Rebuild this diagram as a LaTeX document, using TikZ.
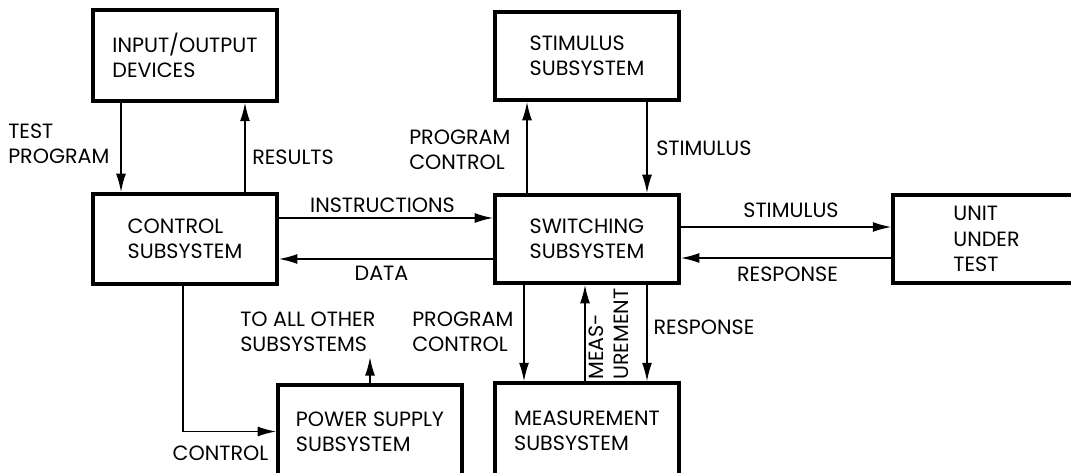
\documentclass[tikz,border=0pt]{standalone}
\usepackage{fontspec}
\setmainfont{Poppins}
\usetikzlibrary{arrows.meta}
\usetikzlibrary{positioning}

\begin{document}
\begin{tikzpicture}[x=0.75pt,y=-0.75pt,font=\fontsize{15.5}{19}\selectfont,
  blk/.style={draw,line width=2.6pt,align=left,inner sep=0pt,minimum width=138pt,minimum height=66pt},
  arr/.style={line width=1.3pt,-{Latex[length=14pt,width=7.5pt]}},
  lbl/.style={inner sep=0pt,align=left}]
\useasboundingbox (0,0) rectangle (1071,473);
\clip (0,0) rectangle (1071,473);

\node[blk,minimum height=68pt] (io) at (185,55.5) {INPUT/OUTPUT\\DEVICES};
\node[blk,minimum height=67.5pt] (ctl) at (185,239) {CONTROL\\SUBSYSTEM};
\node[blk] (stim) at (587,56) {STIMULUS\\SUBSYSTEM};
\node[blk] (sw) at (587,239) {SWITCHING\\SUBSYSTEM};
\node[blk,minimum width=140pt] (uut) at (986.5,239) {UNIT\\UNDER\\TEST};
\node[blk,minimum height=70pt] (pwr) at (370,431.5) {POWER SUPPLY\\SUBSYSTEM};
\node[blk,minimum height=71pt] (meas) at (587,430.5) {MEASUREMENT\\SUBSYSTEM};
\coordinate (oth) at (370,357);

\node[lbl,anchor=west] (tpl) at (8,143.5) {TEST\\PROGRAM};
\node[lbl,anchor=west] (res) at (252,157) {RESULTS};
\node[lbl,anchor=west] (pc1) at (409,149.5) {PROGRAM\\CONTROL};
\node[lbl,anchor=west] (st1) at (656,148) {STIMULUS};
\node[lbl] (ins) at (382.5,205) {INSTRUCTIONS};
\node[lbl] (dat) at (381.5,273) {DATA};
\node[lbl] (st2) at (791,210) {STIMULUS};
\node[lbl] (rsp1) at (787.5,274) {RESPONSE};
\node[lbl,anchor=west] (othl) at (240,331.5) {TO ALL OTHER\\SUBSYSTEMS};
\node[lbl,anchor=west] (pc2) at (412,331.5) {PROGRAM\\CONTROL};
\node[lbl,rotate=90] (msr) at (609,334) {MEAS-\\UREMENT};
\node[lbl] (rsp2) at (704,327) {RESPONSE};
\node[lbl] (cl) at (220.5,453) {CONTROL};

\draw[arr] ([xshift=-48pt]io.south) -- ([xshift=-48pt]ctl.north);
\draw[arr] ([xshift=45pt]ctl.north) -- ([xshift=45pt]io.south);
\draw[arr] ([xshift=-45pt]sw.north) -- ([xshift=-45pt]stim.south);
\draw[arr] ([xshift=45pt]stim.south) -- ([xshift=45pt]sw.north);
\draw[arr] ([yshift=15.75pt]ctl.east) -- ([yshift=15.75pt]sw.west);
\draw[arr] ([yshift=-15pt]sw.west) -- ([yshift=-15pt]ctl.east);
\draw[arr] ([yshift=9pt]sw.east) -- ([yshift=9pt]uut.west);
\draw[arr] ([yshift=-14.25pt]uut.west) -- ([yshift=-14.25pt]sw.east);
\draw[arr] ([xshift=-47.25pt]sw.south) -- ([xshift=-47.25pt]meas.north);
\draw[arr] ([xshift=-1.5pt]meas.north) -- ([xshift=-1.5pt]sw.south);
\draw[arr] ([xshift=45pt]sw.south) -- ([xshift=45pt]meas.north);
\draw[arr] ([xshift=-1.5pt]ctl.south) |- (pwr.west);
\draw[arr] (pwr.north) -- (oth);
\end{tikzpicture}
\end{document}
